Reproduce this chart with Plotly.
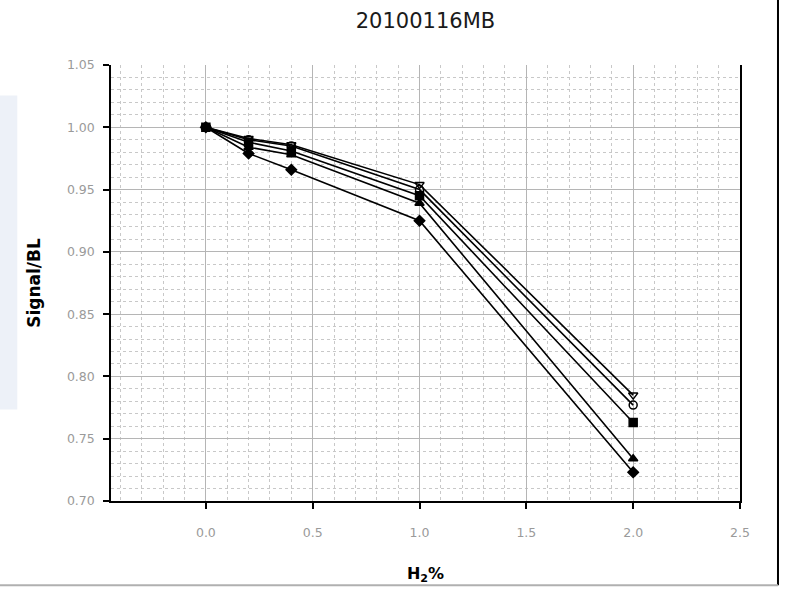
import plotly.graph_objects as go

# H2 concentration (%) and normalised signal for each run
h2_pct = [0.0, 0.2, 0.4, 1.0, 2.0]
run_a = [1.000, 0.979, 0.966, 0.925, 0.723]
run_b = [1.000, 0.984, 0.978, 0.939, 0.734]
run_c = [1.000, 0.988, 0.981, 0.945, 0.763]
run_d = [1.000, 0.990, 0.985, 0.950, 0.777]
run_e = [1.000, 0.991, 0.986, 0.954, 0.785]

x_ticks = [0.0, 0.5, 1.0, 1.5, 2.0, 2.5]
y_ticks = [0.70, 0.75, 0.80, 0.85, 0.90, 0.95, 1.00, 1.05]

series = [
    (run_a, "diamond"),
    (run_b, "triangle-up"),
    (run_c, "square"),
    (run_d, "circle-open"),
    (run_e, "triangle-down-open"),
]

FONT = "DejaVu Sans, Verdana, sans-serif"

fig = go.Figure()
for vals, sym in series:
    fig.add_trace(go.Scatter(
        x=h2_pct, y=vals, mode="lines+markers",
        line=dict(color="black", width=1.6),
        marker=dict(symbol=sym, size=8, color="black",
                    line=dict(color="black", width=1.5)),
        showlegend=False,
    ))

tick_font = dict(family=FONT, size=12.5, color="#9a9a9a")

fig.update_layout(
    width=785, height=595,
    margin=dict(l=111, r=45, t=65, b=94),
    paper_bgcolor="white", plot_bgcolor="white",
    title=dict(text="20100116MB", x=0.542, xanchor="center", y=0.965, yanchor="middle",
               font=dict(family=FONT, size=21, color="#1a1a1a")),
    font=dict(family=FONT),
    xaxis=dict(
        range=[-0.444, 2.5], tickvals=x_ticks, ticktext=[f"{v:.1f}" for v in x_ticks],
        tickfont=tick_font, ticks="outside", ticklen=6, tickcolor="black", tickwidth=1.5,
        ticklabelstandoff=13,
        showline=True, linecolor="black", linewidth=1.5,
        showgrid=True, gridcolor="#b5b5b5", gridwidth=1,
        minor=dict(dtick=0.1, tick0=0, showgrid=True, gridcolor="#c8c8c8",
                   griddash="dot", gridwidth=1),
        zeroline=False,
        title=dict(text="<b>H<sub>2</sub>%</b>", standoff=29,
                   font=dict(family=FONT, size=16, color="black")),
    ),
    yaxis=dict(
        range=[0.70, 1.05], tickvals=y_ticks, ticktext=[f"{v:.2f}" for v in y_ticks],
        tickfont=tick_font, ticks="outside", ticklen=6, tickcolor="black", tickwidth=1.5,
        ticklabelstandoff=6,
        showline=True, linecolor="black", linewidth=1.5, mirror=True,
        showgrid=True, gridcolor="#b5b5b5", gridwidth=1,
        minor=dict(dtick=0.01, tick0=0.70, showgrid=True, gridcolor="#c8c8c8",
                   griddash="dot", gridwidth=1),
        zeroline=False,
        title=dict(text="<b>Signal/BL</b>", standoff=22,
                   font=dict(family=FONT, size=17, color="black")),
    ),
    shapes=[
        # faint page stripe at the far left
        dict(type="rect", xref="paper", yref="paper", x0=-0.1765, x1=-0.149, y0=0.21, y1=0.93,
             fillcolor="#edf1f8", line=dict(width=0), layer="below"),
        # page frame: right edge and bottom rule
        dict(type="line", xref="paper", yref="paper", x0=1.0604, x1=1.0604, y0=-0.193, y1=1.149,
             line=dict(color="black", width=2)),
        dict(type="line", xref="paper", yref="paper", x0=-0.1765, x1=1.0604, y0=-0.193, y1=-0.193,
             line=dict(color="#b0b0b0", width=2)),
    ],
)

fig.write_html("out.html")
